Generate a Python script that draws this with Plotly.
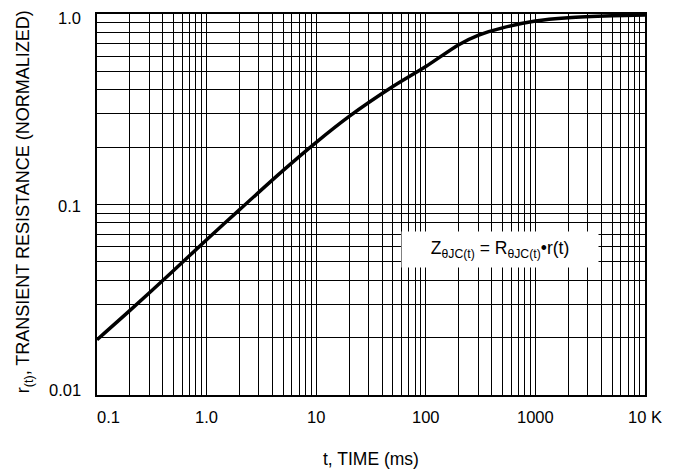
import numpy as np
import plotly.graph_objects as go

# ---- data ----
t_ms = [0.1, 0.2, 0.5, 1, 2, 5, 10, 20, 50, 100, 200, 300, 500, 1000, 2000, 5000, 10000]
r_t = [0.0195, 0.0278, 0.045, 0.0653, 0.094, 0.151, 0.212, 0.29, 0.416, 0.53,
       0.69, 0.772, 0.845, 0.918, 0.955, 0.978, 0.987]

x_tick_vals = [0.1, 1, 10, 100, 1000, 10000]
x_tick_text = ["0.1", "1.0", "10", "100", "1000", "10 K"]
y_tick_vals = [0.01, 0.1, 1]
y_tick_text = ["0.01", "0.1", "1.0"]

x_title = "t, TIME (ms)"
y_title = "r<sub>(t)</sub>, TRANSIENT RESISTANCE (NORMALIZED)"
box_text = "Z<sub>θJC(t)</sub> = R<sub>θJC(t)</sub>•r(t)"

FONT = "Liberation Sans Narrow, Arial Narrow, Liberation Sans, Arial, sans-serif"

# grid positions: 1..9 per decade
x_grid = [m * 10.0 ** d for d in range(-1, 4) for m in range(1, 10)] + [10000]
y_grid = [m * 10.0 ** d for d in range(-2, 0) for m in range(1, 10)] + [1]

fig = go.Figure()
fig.add_trace(go.Scatter(
    x=t_ms, y=r_t, mode="lines",
    line=dict(color="black", width=3.5, shape="spline", smoothing=0.8),
    hoverinfo="skip", showlegend=False,
))

axis_common = dict(
    showgrid=True, gridcolor="black", gridwidth=1.1,
    showline=True, linecolor="black", linewidth=2, mirror=True,
    ticks="", showticklabels=False, zeroline=False,
)
fig.update_xaxes(type="log", range=[-1, 4], tickvals=x_grid, **axis_common)
fig.update_yaxes(type="log", range=[-2, 0], tickvals=y_grid, **axis_common)

TICK_SIZE = 16.5
ann = []
x_shift = {"0.1": 11}
for v, txt in zip(x_tick_vals, x_tick_text):
    ann.append(dict(x=np.log10(v), y=0, xref="x", yref="paper", text=txt,
                    showarrow=False, xanchor="center", yanchor="middle",
                    yshift=-22, xshift=x_shift.get(txt, 0),
                    font=dict(family=FONT, size=TICK_SIZE, color="black")))
y_shift = {"0.01": 5, "0.1": -1, "1.0": -4}
for v, txt in zip(y_tick_vals, y_tick_text):
    ann.append(dict(x=0, y=np.log10(v), xref="paper", yref="y", text=txt,
                    showarrow=False, xanchor="right", yanchor="middle",
                    xshift=-14, yshift=y_shift.get(txt, 0),
                    font=dict(family=FONT, size=TICK_SIZE, color="black")))
ann.append(dict(x=0.5, y=0, xref="paper", yref="paper", text=x_title,
                showarrow=False, xanchor="center", yanchor="middle", yshift=-64,
                font=dict(family=FONT, size=17.5, color="black")))
ann.append(dict(x=(24 - 97) / 548, y=0.506, xref="paper", yref="paper", text=y_title,
                showarrow=False, xanchor="center", yanchor="middle", textangle=-90,
                font=dict(family=FONT, size=18, color="black")))
ann.append(dict(x=0.7354, y=0.3825, xref="paper", yref="paper", text=box_text,
                showarrow=False, xanchor="center", yanchor="middle",
                bgcolor="white", borderpad=0, width=196, height=35,
                font=dict(family=FONT, size=17.5, color="black")))

fig.update_layout(
    width=683, height=471,
    margin=dict(l=97, r=38, t=12, b=76),
    paper_bgcolor="white", plot_bgcolor="white",
    annotations=ann,
    font=dict(family=FONT, color="black"),
)

fig.write_html("out.html",
               config={"displayModeBar": False},
               post_script="document.body.style.margin='0';document.body.style.padding='0';")
